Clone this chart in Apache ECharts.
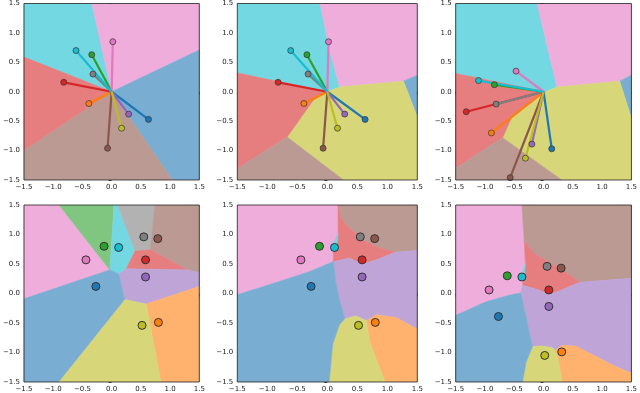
<!DOCTYPE html>
<html>
<head>
<meta charset="utf-8">
<script src="https://cdn.jsdelivr.net/npm/echarts@6/dist/echarts.min.js"></script>
<style>
  html, body { margin: 0; padding: 0; background: #fff; }
  #chart { width: 640px; height: 393px; }
</style>
</head>
<body>
<div id="chart"></div>
<script>
// tab10 colours, in plotting order
const colorNames = ['blue', 'orange', 'green', 'red', 'purple', 'brown', 'pink', 'gray', 'olive', 'cyan']
const tab10 = {
  blue: '#1f77b4', orange: '#ff7f0e', green: '#2ca02c', red: '#d62728', purple: '#9467bd',
  brown: '#8c564b', pink: '#e377c2', gray: '#7f7f7f', olive: '#bcbd22', cyan: '#17becf'
}

// points, same order as colorNames
const pointsTopA = [[0.63, -0.47], [-0.39, -0.20], [-0.34, 0.63], [-0.82, 0.16], [0.29, -0.38],
  [-0.07, -0.96], [0.02, 0.85], [-0.32, 0.30], [0.17, -0.62], [-0.61, 0.70]]
const pointsTopC = [[0.14, -0.97], [-0.89, -0.70], [-0.84, 0.12], [-1.32, -0.34], [-0.20, -0.89],
  [-0.57, -1.46], [-0.47, 0.35], [-0.81, -0.21], [-0.31, -1.13], [-1.11, 0.19]]
const pointsBotA = [[-0.27, 0.12], [0.80, -0.49], [-0.13, 0.80], [0.58, 0.57], [0.58, 0.28],
  [0.79, 0.93], [-0.44, 0.57], [0.55, 0.96], [0.52, -0.54], [0.12, 0.78]]
const pointsBotC = [[-0.77, -0.39], [0.31, -0.99], [-0.62, 0.30], [0.09, 0.06], [0.09, -0.22],
  [0.30, 0.43], [-0.93, 0.06], [0.06, 0.46], [0.02, -1.05], [-0.37, 0.28]]

// decision regions (data coordinates)
const regions1 = [
  ['cyan', [[-1.5, 1.5], [-0.34, 1.5], [0, 0], [-1.5, 0.59]]],
  ['pink', [[-0.34, 1.5], [1.5, 1.5], [1.5, 0.71], [0, 0]]],
  ['blue', [[1.5, 0.71], [1.5, -1.5], [1.04, -1.5], [0, 0]]],
  ['brown', [[1.04, -1.5], [-1.5, -1.5], [-1.5, -0.99], [0, 0]]],
  ['red', [[-1.5, 0.59], [0, 0], [-1.5, -0.99]]]
]
const regions2 = [
  ['cyan', [[-1.5, 1.5], [-0.12, 1.5], [0.04, 0.70], [0.205, 0.08], [0, 0], [-1.5, 0.32]]],
  ['pink', [[-0.12, 1.5], [1.5, 1.5], [1.5, 0.28], [1.27, 0.18], [0.205, 0.08], [0.04, 0.70]]],
  ['blue', [[1.27, 0.18], [1.5, 0.28], [1.5, -0.43]]],
  ['olive', [[0, 0], [0.205, 0.08], [1.27, 0.18], [1.5, -0.43], [1.5, -1.5], [0.27, -1.5], [-0.67, -0.77], [-0.23, -0.14]]],
  ['red', [[-1.5, 0.32], [0, 0], [-0.23, -0.14], [-0.67, -0.77], [-1.5, -1.31]]],
  ['brown', [[-1.5, -1.31], [-0.67, -0.77], [0.27, -1.5], [-1.5, -1.5]]]
]
const regions3 = [
  ['cyan', [[-1.5, 1.5], [-0.11, 1.5], [0.08, 0.70], [0.23, 0.08], [0.03, 0], [-1.5, 0.31]]],
  ['pink', [[-0.11, 1.5], [1.5, 1.5], [1.5, 0.28], [1.30, 0.18], [0.23, 0.08], [0.08, 0.70]]],
  ['blue', [[1.30, 0.18], [1.5, 0.28], [1.5, -0.45]]],
  ['olive', [[0.03, 0], [0.23, 0.08], [1.30, 0.18], [1.5, -0.45], [1.5, -1.5], [0.31, -1.5], [-0.70, -0.78], [-0.55, -0.45]]],
  ['red', [[-1.5, 0.31], [0.03, 0], [-0.55, -0.45], [-0.70, -0.78], [-1.5, -1.30]]],
  ['brown', [[-1.5, -1.30], [-0.70, -0.78], [0.31, -1.5], [-1.5, -1.5]]]
]
const regions4 = [
  ['pink', [[-1.5, 1.5], [-0.90, 1.5], [-0.03, 0.40], [-1.5, -0.09]]],
  ['green', [[-0.90, 1.5], [0.04, 1.5], [-0.03, 0.40]]],
  ['cyan', [[0.04, 1.5], [0.10, 1.5], [0.40, 0.72], [0.25, 0.42], [0.12, 0.33], [-0.03, 0.40]]],
  ['gray', [[0.10, 1.5], [0.74, 1.5], [0.66, 0.74], [0.40, 0.72]]],
  ['brown', [[0.74, 1.5], [1.5, 1.5], [1.5, 0.35], [1.30, 0.40], [0.66, 0.74]]],
  ['red', [[0.40, 0.72], [0.66, 0.74], [1.30, 0.40], [0.25, 0.42]]],
  ['purple', [[0.25, 0.42], [1.30, 0.40], [1.5, 0.35], [1.5, 0.12], [0.59, -0.18], [0.22, -0.10], [0.12, 0.33]]],
  ['orange', [[0.59, -0.18], [1.5, 0.12], [1.5, -1.5], [0.84, -1.5]]],
  ['olive', [[0.22, -0.10], [0.59, -0.18], [0.84, -1.5], [-0.91, -1.5]]],
  ['blue', [[-1.5, -0.09], [-0.03, 0.40], [0.12, 0.33], [0.22, -0.10], [-0.91, -1.5], [-1.5, -1.5]]]
]
const regions5 = [
  ['pink', [[-1.5, 1.5], [0.18, 1.5], [0.18, 1.0], [0.10, 0.78], [0.10, 0.54], [-0.3, 0.37], [-0.9, 0.17], [-1.5, -0.02]]],
  ['brown', [[0.18, 1.5], [1.5, 1.5], [1.5, 0.73], [1.13, 0.70], [0.85, 0.78], [0.65, 0.88], [0.48, 1.02], [0.32, 1.15], [0.22, 1.3]]],
  ['red', [[0.18, 1.5], [0.22, 1.3], [0.32, 1.15], [0.48, 1.02], [0.65, 0.88], [0.85, 0.78], [1.13, 0.70],
    [0.82, 0.57], [0.57, 0.49], [0.37, 0.60], [0.10, 0.54], [0.10, 0.78], [0.18, 1.0]]],
  ['cyan', [[0.18, 1.02], [0.08, 0.80], [0.15, 0.74]]],
  ['purple', [[0.10, 0.54], [0.37, 0.60], [0.57, 0.49], [0.82, 0.57], [1.13, 0.70], [1.5, 0.73], [1.5, -0.6],
    [1.15, -0.41], [0.82, -0.36], [0.65, -0.46], [0.48, -0.38], [0.29, -0.43], [0.2, -0.1], [0.14, 0.2]]],
  ['orange', [[0.65, -0.46], [0.82, -0.36], [1.15, -0.41], [1.5, -0.6], [1.5, -1.5], [0.96, -1.5], [0.70, -0.81]]],
  ['olive', [[0.29, -0.43], [0.48, -0.38], [0.65, -0.46], [0.70, -0.81], [0.96, -1.5], [0.03, -1.5], [0.09, -0.86], [0.20, -0.53]]],
  ['blue', [[-1.5, -0.02], [-0.9, 0.17], [-0.3, 0.37], [0.10, 0.54], [0.14, 0.2], [0.2, -0.1], [0.29, -0.43],
    [0.20, -0.53], [0.09, -0.86], [0.03, -1.5], [-1.5, -1.5]]]
]
const regions6 = [
  ['pink', [[-1.5, 1.5], [-0.37, 1.5], [-0.33, 0.88], [-0.31, 0.5], [-0.36, 0.15], [-0.39, 0.01],
    [-0.59, -0.03], [-0.98, -0.14], [-1.5, -0.37]]],
  ['brown', [[-0.37, 1.5], [1.5, 1.5], [1.5, 0.26], [0.62, 0.19], [0.37, 0.37], [0.09, 0.54], [-0.16, 0.68], [-0.33, 0.88]]],
  ['red', [[-0.33, 0.88], [-0.16, 0.68], [0.09, 0.54], [0.37, 0.37], [0.62, 0.19], [0.26, 0.04], [0.09, -0.02],
    [-0.08, 0.06], [-0.36, 0.14], [-0.31, 0.5]]],
  ['cyan', [[-0.31, 0.52], [-0.39, 0.27], [-0.33, 0.25]]],
  ['purple', [[-0.36, 0.14], [-0.08, 0.06], [0.09, -0.02], [0.26, 0.04], [0.62, 0.19], [1.5, 0.26], [1.5, -1.35],
    [1.21, -1.23], [0.88, -1.06], [0.54, -0.89], [0.31, -0.88], [0.20, -0.96], [0.15, -0.92], [-0.02, -0.89],
    [-0.19, -0.9], [-0.39, 0.01]]],
  ['orange', [[0.20, -0.96], [0.31, -0.88], [0.54, -0.89], [0.88, -1.06], [1.21, -1.23], [1.5, -1.35], [1.5, -1.5],
    [0.31, -1.5], [0.28, -1.3], [0.24, -1.1]]],
  ['olive', [[-0.19, -0.9], [-0.02, -0.89], [0.15, -0.92], [0.20, -0.96], [0.24, -1.1], [0.28, -1.3], [0.31, -1.5],
    [-0.36, -1.5], [-0.30, -1.17]]],
  ['blue', [[-1.5, -0.37], [-0.98, -0.14], [-0.59, -0.03], [-0.39, 0.01], [-0.19, -0.9], [-0.30, -1.17],
    [-0.36, -1.5], [-1.5, -1.5]]]
]

const panels = [
  { box: [20, 3, 179.3, 177], regions: regions1, points: pointsTopA, rays: true },
  { box: [237.3, 3, 180, 177], regions: regions2, points: pointsTopA, rays: true },
  { box: [455.7, 3, 178, 177], regions: regions3, points: pointsTopC, rays: true },
  { box: [20, 205, 179.3, 177.7], regions: regions4, points: pointsBotA, rays: false },
  { box: [237.3, 205, 180, 177.7], regions: regions5, points: pointsBotA, rays: false },
  { box: [455.7, 205, 178, 177.7], regions: regions6, points: pointsBotC, rays: false }
]

// colour at alpha 0.6 over white, as an opaque colour
function blend (hex) {
  const n = parseInt(hex.slice(1), 16)
  const c = [(n >> 16) & 255, (n >> 8) & 255, n & 255].map(v => Math.round(v * 0.6 + 255 * 0.4))
  return 'rgb(' + c.join(',') + ')'
}

const fmt = v => (v < 0 ? '\u2212' : '') + Math.abs(v).toFixed(1)
const axisCommon = {
  min: -1.5, max: 1.5, interval: 0.5,
  splitLine: { show: false },
  axisLine: { show: false },
  axisTick: { show: true, length: 3, lineStyle: { color: '#222', width: 0.8 } },
  axisLabel: { fontSize: 7, color: '#222', fontFamily: 'DejaVu Sans', formatter: fmt, showMinLabel: true, showMaxLabel: true, margin: 4 }
}

const grid = []
const xAxis = []
const yAxis = []
const series = []

panels.forEach((p, k) => {
  grid.push({ left: p.box[0], top: p.box[1], width: p.box[2], height: p.box[3], show: true, z: 10,
    backgroundColor: 'transparent', borderColor: '#222', borderWidth: 0.8 })
  xAxis.push(Object.assign({ type: 'value', gridIndex: k }, axisCommon))
  yAxis.push(Object.assign({ type: 'value', gridIndex: k }, axisCommon))

  series.push({
    type: 'custom', xAxisIndex: k, yAxisIndex: k, silent: true, clip: true, z: 1,
    data: p.regions.map(r => r[1][0]),
    renderItem: function (params, api) {
      const r = p.regions[params.dataIndex]
      const col = blend(tab10[r[0]])
      return {
        type: 'polygon',
        shape: { points: r[1].map(pt => api.coord(pt)) },
        style: { fill: col, stroke: col, lineWidth: 0.6 }
      }
    }
  })

  if (p.rays) {
    p.points.forEach((pt, i) => {
      series.push({
        type: 'line', xAxisIndex: k, yAxisIndex: k, silent: true, z: 2, symbol: 'none',
        data: [[0, 0], pt],
        lineStyle: { color: tab10[colorNames[i]], width: 2.2 }
      })
    })
  }

  series.push({
    type: 'scatter', xAxisIndex: k, yAxisIndex: k, silent: true, z: 3,
    symbolSize: p.rays ? 6 : 8,
    data: p.points.map((pt, i) => ({ value: pt, itemStyle: { color: tab10[colorNames[i]] } })),
    itemStyle: { opacity: 1, borderColor: '#333', borderWidth: p.rays ? 0.7 : 1 }
  })
})

const chart = echarts.init(document.getElementById('chart'), null, { renderer: 'canvas' })
chart.setOption({ animation: false, grid, xAxis, yAxis, series })
</script>
</body>
</html>
